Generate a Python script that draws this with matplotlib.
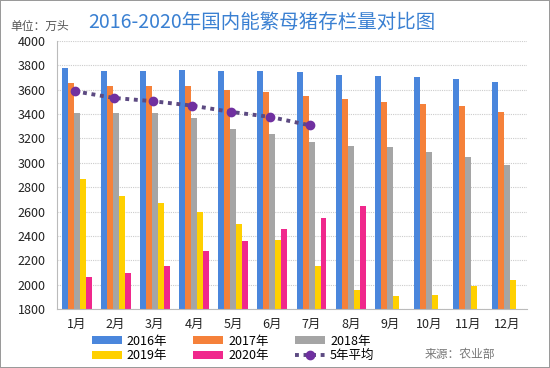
import numpy as np
import matplotlib
matplotlib.use('Agg')
from matplotlib import pyplot as plt

plt.rcParams['font.family'] = ['Noto Sans CJK SC', 'DejaVu Sans']

months = ['1月', '2月', '3月', '4月', '5月', '6月', '7月', '8月', '9月', '10月', '11月', '12月']
y2016 = [3780, 3752, 3752, 3765, 3752, 3752, 3748, 3722, 3710, 3700, 3685, 3660]
y2017 = [3655, 3630, 3630, 3630, 3600, 3584, 3551, 3520, 3500, 3483, 3466, 3420]
y2018 = [3410, 3410, 3410, 3365, 3278, 3239, 3173, 3138, 3130, 3089, 3050, 2980]
y2019 = [2870, 2730, 2667, 2600, 2495, 2369, 2155, 1958, 1906, 1915, 1990, 2037]
y2020 = [2063, 2093, 2155, 2276, 2361, 2454, 2547, 2643]
avg5 = [3587, 3532, 3505, 3469, 3417, 3376, 3308]

series = [('2016年', y2016, '#4a86dc'),
          ('2017年', y2017, '#f5813a'),
          ('2018年', y2018, '#a5a5a5'),
          ('2019年', y2019, '#ffd000'),
          ('2020年', y2020, '#f0288c')]

fig = plt.figure(figsize=(5.5, 3.68), dpi=100, linewidth=1.2, edgecolor='#9a9a9a')
ax = fig.add_axes([0.1036, 0.160, 0.8544, 0.729])

x = np.arange(len(months))
w = 0.153
bars = []
for i, (name, vals, col) in enumerate(series):
    xs = x[:len(vals)] + (i - 2) * w
    b = ax.bar(xs, np.array(vals) - 1800, bottom=1800, width=w, color=col, label=name, zorder=2)
    bars.append(b)

ln, = ax.plot(x[:len(avg5)] - 0.05, avg5, linestyle=(0, (1, 1.2)), color='#5c4a82', linewidth=2.8,
              marker='o', markersize=6, markerfacecolor='#7030a0', markeredgecolor='#7030a0',
              label='5年平均', zorder=3)

ax.set_xlim(-0.5, 11.5)
ax.set_ylim(1800, 4000)
ax.set_yticks(np.arange(1800, 4001, 200))
ax.set_xticks(x)
ax.set_xticklabels(months)
ax.tick_params(axis='both', length=0, labelsize=9, colors='#222222')
ax.tick_params(axis='y', pad=8)
ax.tick_params(axis='x', pad=6)
ax.grid(axis='y', linestyle=(0, (1, 1)), color='#cccccc', linewidth=0.8, zorder=0)
for s in ['top', 'right']:
    ax.spines[s].set_visible(False)
ax.spines['left'].set_color('#bbbbbb')
ax.spines['bottom'].set_color('#bbbbbb')

handles = [bars[0], bars[3], bars[1], bars[4], bars[2], ln]
labels = ['2016年', '2019年', '2017年', '2020年', '2018年', '5年平均']
fig.legend(handles, labels, ncol=3, loc='upper left', bbox_to_anchor=(0.155, 0.108),
           frameon=False, fontsize=9, handlelength=2.4, handleheight=0.6, handletextpad=0.4,
           columnspacing=2.1, labelspacing=0.15, borderpad=0)

fig.text(0.476, 0.938, '2016-2020年国内能繁母猪存栏量对比图', ha='center', va='center',
         fontsize=14, color='#3a80d2', fontweight='medium')
fig.text(0.018, 0.929, '单位：万头', ha='left', va='center', fontsize=8.5, color='#555555')
fig.text(0.90, 0.038, '来源：农业部', ha='right', va='center', fontsize=8.5, color='#777777')

fig.savefig('out.png', dpi=100)
